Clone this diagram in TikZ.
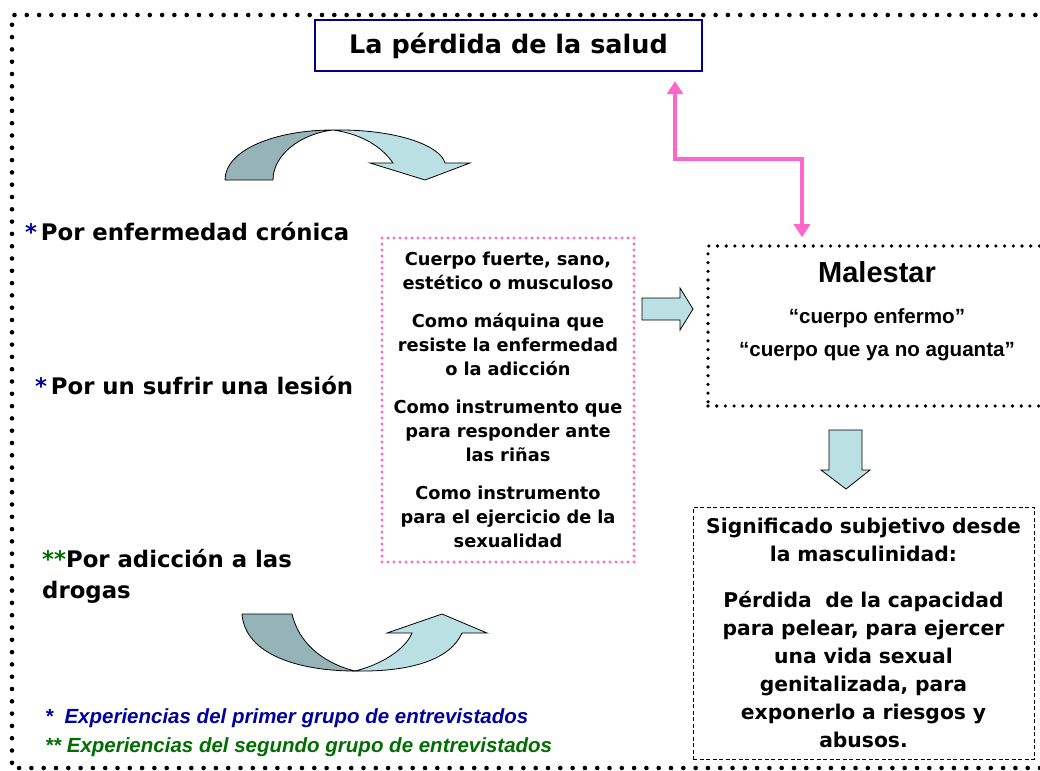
\documentclass[tikz,border=0pt]{standalone}
\usepackage{fontspec}
\setmainfont{DejaVu Sans}
\newfontfamily\arialfont{Liberation Sans}
\usetikzlibrary{arrows.meta}
\definecolor{azul}{RGB}{0,0,140}
\definecolor{estrella}{RGB}{0,0,160}
\definecolor{rosa}{RGB}{255,102,204}
\definecolor{verde}{RGB}{0,110,0}
\definecolor{grisazul}{RGB}{150,180,184}
\definecolor{celeste}{RGB}{187,224,227}

\begin{document}
\begin{tikzpicture}[x=1pt, y=-1pt,
    marco/.style = {line width=4.6pt, line cap=round, dash pattern=on 0pt off 12.3pt},
    titulo/.style = {draw=azul, line width=2.5pt, minimum width=387pt, minimum height=51pt, inner sep=0pt, font=\bfseries\fontsize{25.5}{30}\selectfont},
    causa/.style = {anchor=west, inner sep=0pt, align=left, font=\bfseries\fontsize{22.8}{31}\selectfont},
    cuadro/.style = {draw=rosa, line width=3.4pt, line cap=round, dash pattern=on 0pt off 6pt, minimum width=252pt, minimum height=324pt, inner sep=0pt, text width=250pt, align=center, font=\bfseries\fontsize{17.8}{24.3}\selectfont},
    malestar/.style = {draw, line width=3.6pt, line cap=round, dash pattern=on 0pt off 8.7pt, minimum width=338pt, minimum height=160pt, inner sep=0pt},
    significado/.style = {draw, line width=0.8pt, dash pattern=on 4pt off 2.5pt, minimum width=341pt, minimum height=252pt, inner sep=0pt, text width=335pt, align=center, font=\bfseries\fontsize{20.3}{28}\selectfont},
    queja/.style = {inner sep=0pt, font=\arialfont\bfseries\fontsize{20.6}{24}\selectfont},
    leyenda/.style = {anchor=west, inner sep=0pt, font=\arialfont\bfseries\itshape\fontsize{20.5}{24}\selectfont},
    bloque/.style = {draw=black, line width=0.8pt, fill=celeste},
    oscuro/.style = {draw=black, line width=0.8pt, fill=grisazul},
    conector/.style = {draw=rosa, line width=4pt, {Triangle[width=16pt,length=13pt]}-{Triangle[width=16pt,length=13pt]}}
]
    \useasboundingbox (0,0) rectangle (1040,770);
    \fill[white] (0,0) rectangle (1040,770);
    \draw[marco] (1060,15) -- (12,15) -- (12,768) -- (1060,768);

    \node[titulo] (titulo) at (508.5,45.5) {La pérdida de la salud};

    \node[causa] (cronica) at (25,232) {{\color{estrella}*}\,Por enfermedad crónica};
    \node[causa] (lesion) at (35,386) {{\color{estrella}*}\,Por un sufrir una lesión};
    \node[causa] (drogas) at (42,576) {{\color{verde}**}Por adicción a las\\drogas};

    \node[cuadro] (cuerpo) at (508,400) {Cuerpo fuerte, sano,\\estético o musculoso\\[13pt]
        Como máquina que\\resiste la enfermedad\\o la adicción\\[13pt]
        Como instrumento que\\para responder ante\\las riñas\\[13pt]
        Como instrumento\\para el ejercicio de la\\sexualidad};

    \node[malestar] (malestar) at (877,326) {};
    \node[inner sep=0pt, font=\arialfont\bfseries\fontsize{29}{34}\selectfont] (maltit) at (877,272) {Malestar};
    \node[queja] (enfermo) at (877,318) {“cuerpo enfermo”};
    \node[queja] (aguanta) at (877,352) {“cuerpo que ya no aguanta”};

    \node[significado] (signif) at (863.5,633) {Significado subjetivo desde\\la masculinidad:\\[18pt]
        Pérdida\ \ de la capacidad\\para pelear, para ejercer\\una vida sexual\\genitalizada, para\\exponerlo a riesgos y\\abusos.};

    \node[leyenda, text=estrella] (ley1) at (45,718) {*\ \ Experiencias del primer grupo de entrevistados};
    \node[leyenda, text=verde] (ley2) at (45,747) {** Experiencias del segundo grupo de entrevistados};

    % conector rosa
    \coordinate (codo1) at (802,159);
    \coordinate (codo2) at (675,159);
    \draw[conector, shorten <=7pt, shorten >=9pt] (malestar.north -| codo1) -- (codo1) -- (codo2) -- (titulo.south -| codo2);

    % flechas de bloque
    \draw[bloque] (642,298) -- (680,298) -- (680,288) -- (693,309) -- (680,330) -- (680,320) -- (642,320) -- cycle;
    \draw[bloque] (829,430) -- (862,430) -- (862,470) -- (870,470) -- (846,489) -- (821,470) -- (829,470) -- cycle;

    % flechas curvas
    \draw[oscuro] (225,180) .. controls (225,150) and (275,130) .. (333,130)
        .. controls (300,134) and (273,155) .. (273,180) -- cycle;
    \draw[bloque] (333,130) .. controls (395,129) and (440,145) .. (445,163) -- (470,163) -- (425,180)
        -- (370,163) -- (393,163) .. controls (382,147) and (362,134) .. (333,130) -- cycle;
    \draw[oscuro] (242,614) -- (292,614) .. controls (300,648) and (330,665) .. (355,671)
        .. controls (300,671) and (245,655) .. (242,614) -- cycle;
    \draw[bloque] (355,671) .. controls (380,665) and (405,650) .. (412,633) -- (387,633) -- (442,614)
        -- (487,633) -- (462,633) .. controls (450,660) and (410,672) .. (355,671) -- cycle;
\end{tikzpicture}
\end{document}
